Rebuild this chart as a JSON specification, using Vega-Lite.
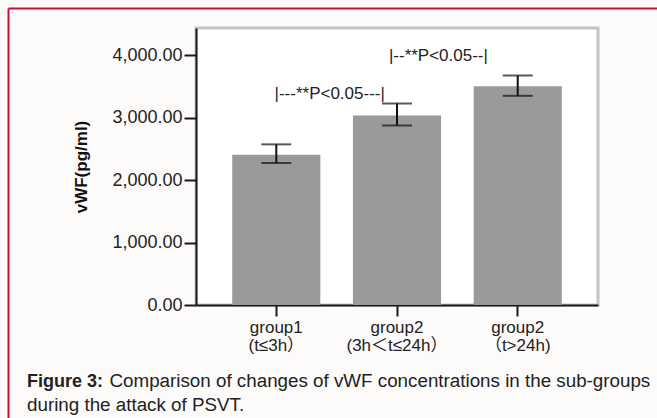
{
  "$schema": "https://vega.github.io/schema/vega-lite/v6.json",
  "autosize": "none",
  "width": 402,
  "height": 277,
  "padding": {"left": 196, "top": 28, "right": 59, "bottom": 113},
  "background": "#fdfafa",
  "config": {
    "font": "Liberation Sans",
    "view": {"fill": "#ffffff", "stroke": "#c4c4c4", "strokeWidth": 3}
  },
  "datasets": {
    "bars": [
      {"group": "group1|(t≤3h）", "mean": 2403, "lo": 2272, "hi": 2570},
      {"group": "group2|(3h＜t≤24h）", "mean": 3032, "lo": 2872, "hi": 3224},
      {"group": "group2|（t>24h)", "mean": 3501, "lo": 3347, "hi": 3672}
    ],
    "notes": [
      {"group": "group1|(t≤3h）", "y": 3376, "label": "|---**P<0.05---|"},
      {"group": "group2|(3h＜t≤24h）", "y": 3989, "label": "|--**P<0.05--|"}
    ]
  },
  "title": {
    "text": "Figure 3:",
    "subtitle": "during the attack of PSVT.",
    "orient": "bottom",
    "anchor": "start",
    "frame": "group",
    "dx": -169,
    "offset": -46,
    "font": "Liberation Sans",
    "fontSize": 18,
    "fontWeight": "bold",
    "color": "#222222",
    "subtitleFont": "Liberation Sans",
    "subtitleFontSize": 18.8,
    "subtitleFontWeight": "normal",
    "subtitleColor": "#222222",
    "subtitlePadding": 5
  },
  "resolve": {"axis": {"x": "independent", "y": "independent"}},
  "layer": [
    {
      "data": {"name": "bars"},
      "mark": {"type": "bar", "color": "#9a9a9a"},
      "encoding": {
        "x": {
          "field": "group", "type": "nominal", "sort": null,
          "scale": {"paddingInner": 0.27, "paddingOuter": 0.3},
          "axis": {
            "orient": "bottom",
            "title": "Comparison of changes of vWF concentrations in the sub-groups",
            "titleFont": "Liberation Sans",
            "titleFontSize": 18.8,
            "titleFontWeight": "normal",
            "titleColor": "#222222",
            "titleAlign": "left",
            "titleAnchor": "start",
            "titleX": -87,
            "titlePadding": 18,
            "labelAngle": 0,
            "labelExpr": "split(datum.value, '|')",
            "labelFont": "Liberation Sans, Noto Sans CJK SC",
            "labelFontSize": 17,
            "labelLineHeight": 18,
            "labelColor": "#222222",
            "labelPadding": 3,
            "domainColor": "#1a1a1a",
            "domainWidth": 2,
            "tickColor": "#1a1a1a",
            "tickWidth": 2,
            "tickSize": 11
          }
        },
        "y": {
          "field": "mean", "type": "quantitative",
          "scale": {"domain": [0, 4432], "nice": false},
          "axis": {
            "orient": "left",
            "title": "vWF(pg/ml)",
            "titleFont": "Liberation Sans",
            "titleFontSize": 17,
            "titleFontWeight": "bold",
            "titleColor": "#111111",
            "titlePadding": 21,
            "values": [0, 1000, 2000, 3000, 4000],
            "format": ",.2f",
            "labelFont": "Liberation Sans",
            "labelFontSize": 18,
            "labelColor": "#222222",
            "labelPadding": 2,
            "grid": false,
            "domainColor": "#1a1a1a",
            "domainWidth": 2,
            "tickColor": "#1a1a1a",
            "tickWidth": 2,
            "tickSize": 12
          }
        }
      }
    },
    {
      "data": {"name": "bars"},
      "mark": {"type": "rule", "color": "#111111", "strokeWidth": 2},
      "encoding": {
        "x": {"field": "group", "type": "nominal", "sort": null, "axis": null},
        "y": {"field": "lo", "type": "quantitative", "axis": null},
        "y2": {"field": "hi"}
      }
    },
    {
      "data": {"name": "bars"},
      "mark": {"type": "tick", "color": "#111111", "thickness": 2, "size": 30, "orient": "horizontal"},
      "encoding": {
        "x": {
          "field": "group", "type": "nominal", "sort": null,
          "axis": {
            "orient": "top", "offset": 20, "values": ["group1|(t≤3h）"],
            "tickOffset": -268, "tickSize": -410, "tickColor": "#c8102e", "tickWidth": 2,
            "labels": false, "domain": false, "title": null, "grid": false
          }
        },
        "y": {
          "field": "lo", "type": "quantitative",
          "axis": {
            "orient": "right", "offset": 59, "values": [4432],
            "tickOffset": -20, "tickSize": -649, "tickColor": "#c8102e", "tickWidth": 2,
            "labels": false, "domain": false, "title": null, "grid": false
          }
        }
      }
    },
    {
      "data": {"name": "bars"},
      "mark": {"type": "tick", "color": "#111111", "thickness": 2, "size": 30, "orient": "horizontal"},
      "encoding": {
        "x": {"field": "group", "type": "nominal", "sort": null, "axis": null},
        "y": {"field": "hi", "type": "quantitative", "axis": null}
      }
    },
    {
      "data": {"name": "notes"},
      "transform": [{"filter": "datum.group == 'group1|(t≤3h）'"}],
      "mark": {"type": "text", "align": "left", "baseline": "middle", "font": "Liberation Sans", "fontSize": 17, "color": "#222222"},
      "encoding": {
        "x": {"field": "group", "type": "nominal", "sort": null, "bandPosition": 0.48, "axis": null},
        "y": {"field": "y", "type": "quantitative", "axis": null},
        "text": {"field": "label"}
      }
    },
    {
      "data": {"name": "notes"},
      "transform": [{"filter": "datum.group != 'group1|(t≤3h）'"}],
      "mark": {"type": "text", "align": "center", "baseline": "middle", "font": "Liberation Sans", "fontSize": 17, "color": "#222222"},
      "encoding": {
        "x": {"field": "group", "type": "nominal", "sort": null, "bandPosition": 0.97, "axis": null},
        "y": {"field": "y", "type": "quantitative", "axis": null},
        "text": {"field": "label"}
      }
    }
  ]
}
